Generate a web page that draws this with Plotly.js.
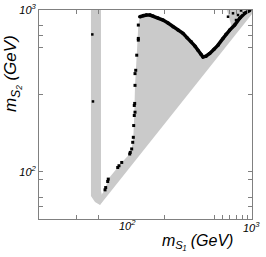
<!DOCTYPE html>
<html><head><meta charset="utf-8">
<script src="https://cdn.plot.ly/plotly-3.0.1.min.js"></script>
<style>html,body{margin:0;padding:0;background:#fff}#c{width:266px;height:257px}</style>
</head><body><div id="c"></div>
<script>
// Allowed region near the Higgs resonance (vertical band), m_S1 vs m_S2 in GeV
const bandX = [57.7, 57.7, 62.0, 67.7, 71.4, 68.9, 68.9];
const bandY = [1000, 70.9, 65.1, 62.4, 67.0, 76.2, 1000];

// Main allowed (grey) region outline
const regionX = [67.7, 1000, 1000, 642.3, 701.7, 631.0, 547.6, 472.8, 419.8, 384.2, 341.3, 294.6, 246.8, 206.8, 173.2, 153.8, 136.9, 133.5, 129.8, 125.9, 124.3, 122.2, 118.7, 114.6, 99.5, 92.7, 78.4, 74.0, 70.2, 68.9];
const regionY = [62.4, 944.4, 1000, 1000, 773.1, 709.3, 606.4, 538.4, 512.8, 564.4, 635.6, 716.6, 787.6, 866.7, 917.6, 931.0, 908.8, 807.0, 525.5, 342.1, 222.8, 163.3, 138.4, 128.8, 114.2, 106.3, 90.1, 77.3, 73.0, 68.0];

// Black points: left edge (dashed)
const edgeX = [74.0, 74.9, 77.6, 78.4, 92.7, 94.8, 99.5, 114.6, 115.8, 118.7, 120.9, 122.2, 123.0, 124.3, 125.9, 124.3, 125.2, 125.9, 125.9, 127.5, 129.8, 133.5, 133.5, 133.5];
const edgeY = [77.3, 79.9, 87.1, 90.1, 106.3, 109.0, 114.2, 128.8, 131.8, 138.4, 152.1, 163.3, 193.1, 222.8, 233.5, 257.0, 264.5, 342.1, 404.4, 423.9, 525.5, 651.2, 667.2, 807.0];

// Black points: upper ridge (continuous)
const ridgeX = [136.9, 145.8, 153.8, 164.2, 173.2, 189.2, 206.8, 225.8, 246.8, 269.7, 294.6, 316.2, 341.3, 364.4, 384.2, 405.3, 419.8, 442.7, 472.8, 510.3, 547.6, 598.4, 631.0, 673.8, 736.0, 804.3, 878.9, 960.0];
const ridgeY = [908.8, 924.3, 931.0, 931.0, 917.6, 892.0, 866.7, 830.4, 787.6, 751.3, 716.6, 674.9, 635.6, 597.6, 564.4, 533.0, 512.8, 518.0, 538.4, 572.5, 606.4, 667.2, 709.3, 751.3, 807.0, 888.2, 954.0, 992.9];

// Scattered black points
const strayX = [714.2, 780.3, 653.8, 823.0, 753.2, 59.1, 59.8];
const strayY = [954.0, 931.0, 908.8, 992.9, 866.7, 706.4, 272.1];

// Tick marks as read from the frame
const xTicks = [44.3, 65.4, 210.4, 510.3, 587.8, 665.5, 753.2, 837.6, 915.3];
const yTicks = [60.6, 68.9, 89.2, 100, 300.8, 589.2, 699.4, 807.0, 1000];
const yTickText = ['', '', '', '<i>10<sup>2</sup></i>', '', '', '', '', '<i>10<sup>3</sup></i>'];

const grey = '#cacaca';
const traces = [
  {x: bandX, y: bandY, type: 'scatter', mode: 'lines', fill: 'toself', fillcolor: grey, line: {width: 0, color: grey}, hoverinfo: 'skip'},
  {x: regionX, y: regionY, type: 'scatter', mode: 'lines', fill: 'toself', fillcolor: grey, line: {width: 0, color: grey}, hoverinfo: 'skip'},
  {x: ridgeX, y: ridgeY, type: 'scatter', mode: 'lines+markers', line: {color: '#000', width: 3.5}, marker: {color: '#000', size: 3.5}},
  {x: edgeX, y: edgeY, type: 'scatter', mode: 'markers', marker: {color: '#000', size: 3, symbol: 'square'}},
  {x: strayX, y: strayY, type: 'scatter', mode: 'markers', marker: {color: '#000', size: 2.5, symbol: 'square'}}
];

const axisCommon = {
  type: 'log', showgrid: false, zeroline: false, showline: true, linecolor: '#808080', linewidth: 1,
  mirror: 'ticks', ticks: 'inside', ticklen: 4, tickcolor: '#808080', tickwidth: 1
};
const fontFam = 'Liberation Sans, Arial, sans-serif';

const layout = {
  width: 266, height: 257,
  margin: {l: 39, r: 14, t: 10, b: 38},
  paper_bgcolor: '#fff', plot_bgcolor: '#fff',
  showlegend: false,
  font: {family: fontFam, color: '#000', size: 11},
  xaxis: Object.assign({}, axisCommon, {
    range: [1.3615, 3], tickmode: 'array', tickvals: xTicks, showticklabels: false
  }),
  yaxis: Object.assign({}, axisCommon, {
    range: [1.7081, 3], tickmode: 'array', tickvals: yTicks, ticktext: yTickText,
    tickfont: {family: fontFam, size: 11, color: '#000'}
  }),
  annotations: [
    {text: '<i>10<sup>2</sup></i>', xref: 'x', x: 2, xshift: 5, yref: 'paper', y: 0, yshift: -15, showarrow: false, font: {family: fontFam, size: 11}},
    {text: '<i>10<sup>3</sup></i>', xref: 'x', x: 3, xshift: -1, yref: 'paper', y: 0, yshift: -17, showarrow: false, font: {family: fontFam, size: 11}},
    {text: '<i>m<sub>S₁</sub> (GeV)</i>', xref: 'paper', x: 0.568, yref: 'paper', y: 0, yshift: -22, xanchor: 'left', yanchor: 'middle', showarrow: false, font: {family: fontFam, size: 16}},
    {text: '<i>m<sub>S₂</sub> (GeV)</i>', xref: 'paper', x: 0, xshift: -27, yref: 'paper', y: 0.694, yanchor: 'middle', xanchor: 'center', textangle: -90, showarrow: false, font: {family: fontFam, size: 17}}
  ]
};

Plotly.newPlot('c', traces, layout, {staticPlot: true, displayModeBar: false});
</script></body></html>
